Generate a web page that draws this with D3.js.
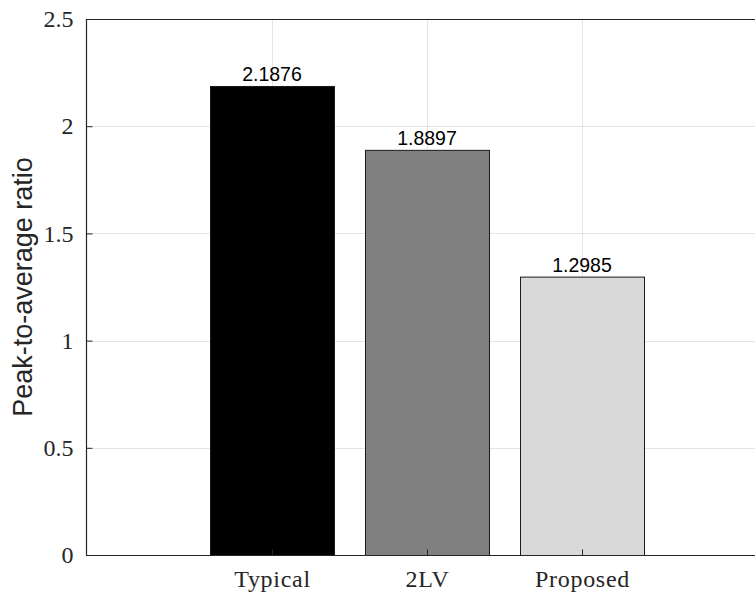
<!DOCTYPE html>
<html>
<head>
<meta charset="utf-8">
<script src="https://cdn.jsdelivr.net/npm/d3@7"></script>
<style>
  html, body { margin: 0; padding: 0; background: #fff; }
  svg { display: block; }
</style>
</head>
<body>
<div id="chart"></div>
<script>
// Peak-to-average ratio of each scheme
const categories = ["Typical", "2LV", "Proposed"];
const values = [2.1876, 1.8897, 1.2985];
const barColors = ["#000000", "#808080", "#d9d9d9"];
const yTicks = [0, 0.5, 1, 1.5, 2, 2.5];
const yTickLabels = ["0", "0.5", "1", "1.5", "2", "2.5"];

const W = 755, H = 596;
const margin = { left: 86, top: 19, bottom: 41 };
const plotBottom = H - margin.bottom;

const svg = d3.select("#chart").append("svg")
  .attr("width", W).attr("height", H);

// Categories sit at positions 1..3 on a numeric axis running from -0.2 to 4.2
const x = d3.scaleLinear().domain([-0.2, 4.2]).range([margin.left, margin.left + 155 * 4.4]);
const y = d3.scaleLinear().domain([0, 2.5]).range([plotBottom, margin.top]);
const barWidth = 0.8;
const pos = categories.map((_, i) => i + 1);

// Grid
const grid = svg.append("g").attr("stroke", "#e5e5e5").attr("stroke-width", 1);
grid.selectAll("line.h").data(yTicks).join("line")
  .attr("x1", x(-0.2)).attr("x2", W)
  .attr("y1", d => Math.round(y(d)) + 0.5).attr("y2", d => Math.round(y(d)) + 0.5);
grid.selectAll("line.v").data(pos).join("line")
  .attr("y1", margin.top).attr("y2", plotBottom)
  .attr("x1", d => Math.round(x(d)) + 0.5).attr("x2", d => Math.round(x(d)) + 0.5);

// Bars
svg.append("g").selectAll("rect").data(values).join("rect")
  .attr("x", (d, i) => x(pos[i] - barWidth / 2) + 0.5)
  .attr("width", x(barWidth) - x(0))
  .attr("y", d => y(d) + 0.5)
  .attr("height", d => y(0) - y(d))
  .attr("fill", (d, i) => barColors[i])
  .attr("stroke", "#1a1a1a")
  .attr("stroke-width", 1);

// Value labels above the bars
svg.append("g").selectAll("text").data(values).join("text")
  .attr("x", (d, i) => x(pos[i]))
  .attr("y", d => y(d) - 5)
  .attr("text-anchor", "middle")
  .attr("font-family", "'Liberation Sans', Arial, sans-serif")
  .attr("font-size", 19.5)
  .attr("fill", "#000")
  .text(d => d.toFixed(4));

// Axes
const yAxis = d3.axisLeft(y).tickValues(yTicks).tickSize(-6).tickPadding(13)
  .tickFormat((d, i) => yTickLabels[i]);
const gy = svg.append("g").attr("transform", `translate(${margin.left + 0.5},0)`).call(yAxis);

const xAxis = d3.axisBottom(x).tickValues(pos).tickSize(-6).tickPadding(12)
  .tickFormat((d, i) => categories[i]);
const gx = svg.append("g").attr("transform", `translate(0,${plotBottom + 0.5})`).call(xAxis);

[gy, gx].forEach(g => {
  g.select(".domain").remove();
  g.selectAll(".tick line").attr("stroke", "#262626");
  g.selectAll(".tick text")
    .attr("font-family", "'Liberation Serif', 'Times New Roman', serif")
    .attr("font-size", 24)
    .attr("fill", "#262626");
});
gx.selectAll(".tick text").attr("letter-spacing", "0.7px").attr("dy", "0.8em");
gy.selectAll(".tick text").attr("dy", "0.32em");

// Axis box lines (left, bottom, top)
const frame = svg.append("g").attr("stroke", "#262626").attr("stroke-width", 1.2).attr("fill", "none");
frame.append("line").attr("x1", margin.left + 0.5).attr("x2", margin.left + 0.5)
  .attr("y1", margin.top).attr("y2", plotBottom + 0.5);
frame.append("line").attr("x1", margin.left).attr("x2", W)
  .attr("y1", plotBottom + 0.5).attr("y2", plotBottom + 0.5);
frame.append("line").attr("x1", margin.left).attr("x2", W)
  .attr("y1", margin.top + 0.5).attr("y2", margin.top + 0.5);

// Y-axis title
svg.append("text")
  .attr("transform", `translate(32,${(margin.top + plotBottom) / 2}) rotate(-90)`)
  .attr("text-anchor", "middle")
  .attr("font-family", "'Liberation Sans', Arial, sans-serif")
  .attr("font-size", 27)
  .attr("fill", "#262626")
  .text("Peak-to-average ratio");
</script>
</body>
</html>
